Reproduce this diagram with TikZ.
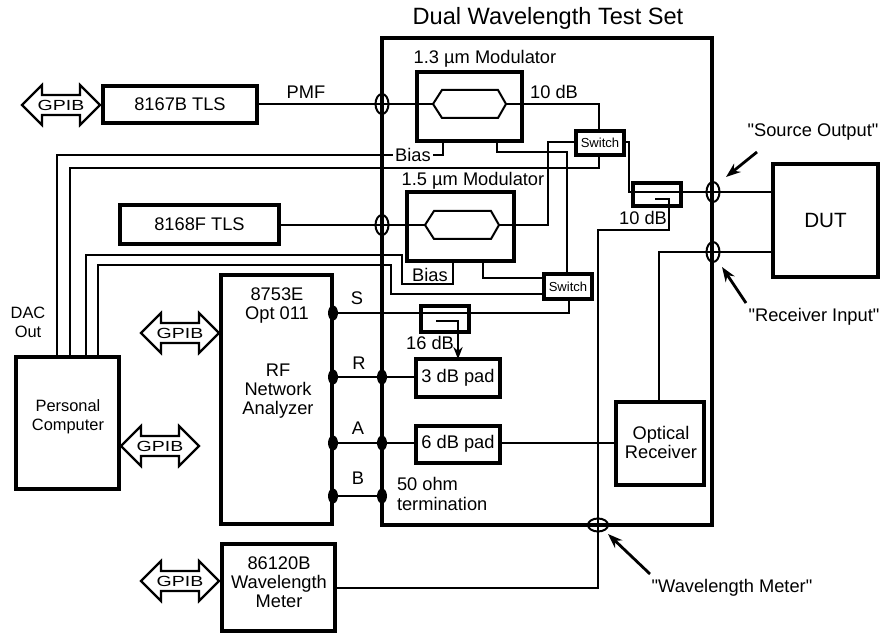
\documentclass[tikz,border=0pt]{standalone}
\usepackage{fontspec}
\setmainfont{Liberation Sans}
\newfontfamily\qf{Liberation Sans}
\usetikzlibrary{arrows.meta,calc}
\newcommand\fa{\fontsize{13.7pt}{14.3pt}\selectfont}
\newcommand\fb{\fontsize{12.3pt}{14.3pt}\selectfont}
\newcommand\fc{\fontsize{9.8pt}{11pt}\selectfont}
\newcommand\fd{\fontsize{17.7pt}{20pt}\selectfont}
\newcommand\fe{\fontsize{11pt}{12pt}\selectfont}
\tikzset{
  x=0.75pt,y=-0.75pt,
  heavy/.style={draw,line width=3pt,inner sep=0pt,outer sep=0pt},
  wire/.style={draw,line width=1.5pt,line join=miter},
  lab/.style={inner sep=0pt,outer sep=0pt,font=\fa,align=center},
  small/.style={lab,font=\fb},
  callout/.style={line width=2.1pt,-{Stealth[length=11pt,width=8pt]}},
  port/.style={fill=black},
  cross/.style={draw,line width=1.5pt},
  gp/.style={draw,fill=white,line width=1.6pt,line join=miter},
}
\newcommand\bx[5]{\node[heavy,minimum width={(#4-#2)*0.75pt},minimum height={(#5-#3)*0.75pt}] (#1) at ({(#2+#4)/2},{(#3+#5)/2}) {};}
\newcommand\gpib[3]{%
  \begin{scope}[shift={(#2,#3)}]
    \path[gp] (0,0)--(20,-20)--(20,-10)--(58,-10)--(58,-20)--(78,0)--(58,20)--(58,10)--(20,10)--(20,20)--cycle;
    \node[inner sep=0pt,xscale=1.33,font=\fe] (#1) at (39,0) {GPIB};
  \end{scope}}
\newcommand\hexa[6]{%
  \path[wire] (#2,#6) -- (#3,{#6-14}) -- (#4,{#6-14}) -- (#5,#6) -- (#4,{#6+14}) -- (#3,{#6+14}) -- cycle;
  \coordinate (#1L) at (#2,#6); \coordinate (#1R) at (#5,#6);}
\begin{document}
\begin{tikzpicture}
\useasboundingbox (0,0) rectangle (889,634);
% boxes
\bx{tlsa}{103}{86}{257}{123}
\bx{tlsb}{120}{205}{279}{244}
\bx{pc}{16}{357}{119}{489}
\bx{rfna}{221}{275}{332}{524}
\bx{wm}{222}{544}{335}{631}
\bx{ts}{382}{38}{712}{525}
\bx{moda}{417}{72}{522}{141}
\bx{modb}{407}{192}{514}{261}
\bx{swa}{576}{131}{624}{155}
\bx{swb}{544}{274}{592}{299}
\bx{cpa}{633}{183}{681}{206}
\bx{cpb}{421}{306}{469}{332}
\bx{pada}{416}{359}{500}{397}
\bx{padb}{416}{426}{500}{463}
\bx{orx}{616}{402}{704}{485}
\bx{dut}{773}{164}{878}{277}
% modulators
\hexa{ha}{433}{442}{498}{506}{104}
\hexa{hb}{425}{434}{491}{499}{225}
% free ends
\coordinate (pca) at (57,357);
\coordinate (pcb) at (70,357);
\coordinate (pcc) at (86,357);
\coordinate (pcd) at (98,357);
\coordinate (bia) at (443,141);
\coordinate (bib) at (453,261);
\coordinate (oa) at (497,141);
\coordinate (ob) at (483,261);
\coordinate (tapa) at (655,199);
\coordinate (tapb) at (436,321);
\coordinate (tsS) at (333,313);
\coordinate (tsR) at (333,377);
\coordinate (tsA) at (333,443);
\coordinate (tsB) at (333,496);
\coordinate (inR) at (382,377);
\coordinate (inA) at (382,443);
\coordinate (inB) at (382,496);
% connectors
\path[wire] (tlsa.east |- haL) -- (haL);
\path[wire] (tlsb.east |- hbL) -- (hbL);
\path[wire] (haR) -- (599,104) -- (599,131);
\path[wire] (hbR) -- (548,225) -- (548,142) -- (576,142);
\path[wire] (oa) -- (497,152) -- (567,152) -- (567,274);
\path[wire] (ob) -- (483,278) -- (544,278);
\path[wire] (pca) -- (57,155) -- (443,155) -- (bia);
\path[wire] (pcb) -- (70,168) -- (599,168) -- (599,155);
\path[wire] (pcc) -- (86,255) -- (402,255) -- (402,284) -- (453,284) -- (bib);
\path[wire] (pcd) -- (98,265) -- (391,265) -- (391,294) -- (544,294);
\path[wire] (624,142) -- (629,142) -- (629,192) -- (dut.west |- 0,192);
\path[wire] (tapa) -- (669,199) -- (669,230) -- (598,230) -- (598,588) -- (wm.east |- 0,588);
\path[wire] (dut.west |- 0,252) -- (659,252) -- (orx.north -| 659,0);
\path[wire] (tsS) -- (569,313) -- (569,299);
\path[wire] (tsR) -- (pada.west |- tsR);
\path[wire] (tsA) -- (padb.west |- tsA);
\path[wire] (padb.east |- tsA) -- (orx.west |- tsA);
\path[wire] (tsB) -- (inB);
\draw[line width=1.5pt,-{Stealth[length=9pt,width=7pt]}] (tapb) -- (458,321) -- (pada.north -| 458,0);
% crossings
\draw[cross] (382,104) ellipse (6.5 and 10);
\draw[cross] (382,225) ellipse (6.5 and 10);
\draw[cross] (713,192) ellipse (6.5 and 10);
\draw[cross] (713,252) ellipse (6.5 and 10);
\draw[cross] (598,525) ellipse (10 and 6.5);
% port dots
\foreach \p in {tsS,tsR,tsA,tsB,inR,inA,inB}{\fill[port] (\p) ellipse (5 and 7.5);}
% GPIB
\gpib{ga}{22}{105}
\gpib{gb}{141}{333}
\gpib{gc}{121}{446}
\gpib{gd}{141}{581}
% text
\node[lab,font=\fd] (ttl) at (548,18) {Dual Wavelength Test Set};
\node[lab] (t1) at (tlsa.center) {8167B TLS};
\node[lab] (t2) at (tlsb.center) {8168F TLS};
\node[lab] (t3) at (306,92) {PMF};
\node[lab] (t4) at (485,59) {1.3 µm Modulator};
\node[lab] (t5) at (473,181) {1.5 µm Modulator};
\node[lab] (t6) at (554,92) {10 dB};
\node[lab] (t7) at (643,218) {10 dB};
\node[lab,fill=white,inner xsep=1.5pt,inner ysep=1pt] (t8) at (413,155) {Bias};
\node[lab] (t9) at (430,275) {Bias};
\node[lab,font=\fc] (sa) at (swa.center) {Switch};
\node[lab,font=\fc] (sb) at (swb.center) {Switch};
\node[lab] (t10) at (430,343) {16 dB};
\node[lab] (t11) at (458,378) {3 dB pad};
\node[lab] (t12) at (458,444) {6 dB pad};
\node[lab,anchor=west,align=left] (t13) at (397,494) {50 ohm\\termination};
\node[lab] (t14) at (357,298) {S};
\node[lab] (t15) at (359,363) {R};
\node[lab] (t16) at (358,428) {A};
\node[lab] (t17) at (358,478) {B};
\node[lab] (t18) at (277,305.5) {8753E\\Opt 011};
\node[lab] (t19) at (278,391) {RF\\Network\\Analyzer};
\node[lab] (t20) at (279,582) {86120B\\Wavelength\\Meter};
\node[small] (t21) at (68,416.5) {Personal\\Computer};
\node[small] (t22) at (28,322) {DAC\\Out};
\node[lab] (t23) at (661,442.5) {Optical\\Receiver};
\node[lab,font=\fontsize{15.5pt}{16pt}\selectfont] (t24) at (dut.center) {DUT};
\node[lab,font=\fa\qf] (l1) at (813,132) {"Source Output"};
\node[lab,font=\fa\qf] (l2) at (814,317) {"Receiver Input"};
\node[lab,font=\fa\qf] (l3) at (732,588) {"Wavelength Meter"};
\draw[callout] (757,152) -- (726,177);
\draw[callout] (746,303) -- (722,267);
\draw[callout] (650,574) -- (608,534);
\end{tikzpicture}
\end{document}
